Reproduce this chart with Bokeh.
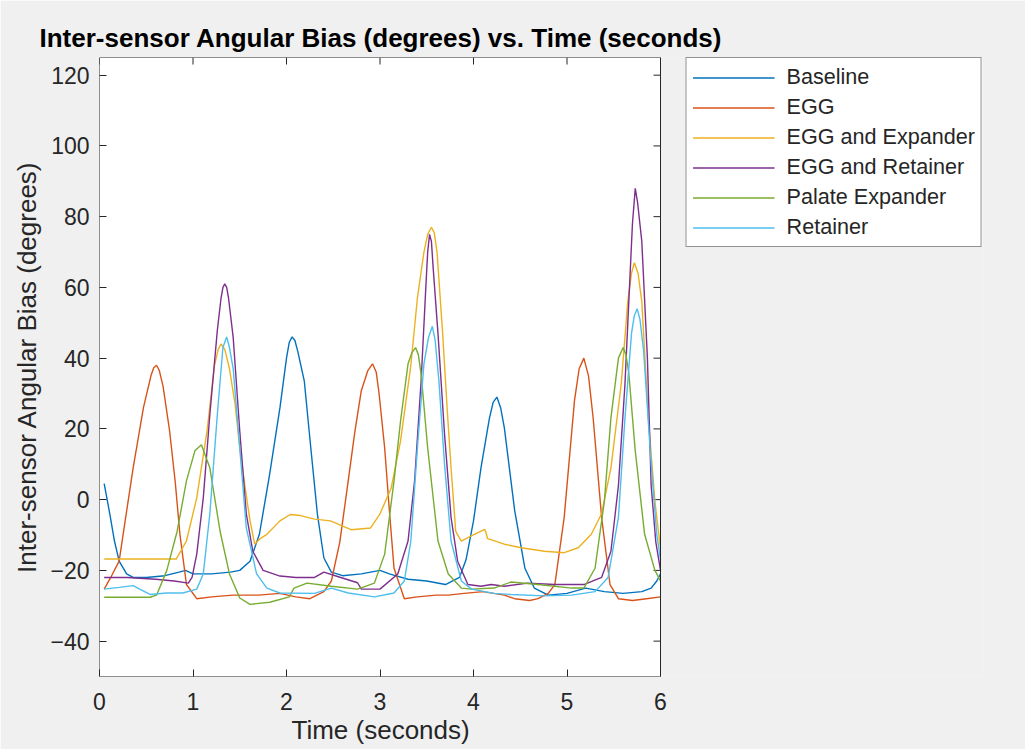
import math
from bokeh.plotting import figure
from bokeh.models import Range1d, Legend, LegendItem, FixedTicker, Title
from bokeh.embed import file_html
from bokeh.resources import INLINE

# ---------------- data ----------------
series_names = ["Baseline", "EGG", "EGG and Expander", "EGG and Retainer",
                "Palate Expander", "Retainer"]
series_colors = ["#0072BD", "#D95319", "#EDB120", "#7E2F8E", "#77AC30", "#4DBEEE"]

t_base = [0.05, 0.11, 0.16, 0.21, 0.29, 0.36, 0.5, 0.7, 0.85, 0.92, 1.0, 1.2, 1.4, 1.5,
          1.61, 1.71, 1.82, 1.93, 2.0, 2.03, 2.06, 2.09, 2.12, 2.19, 2.26, 2.33, 2.4, 2.48,
          2.6, 2.8,
          3.0, 3.1, 3.3, 3.5, 3.7, 3.85, 3.92, 4.0, 4.08, 4.17, 4.21, 4.25, 4.29, 4.33,
          4.44, 4.55, 4.65,
          4.8, 5.0, 5.2, 5.4, 5.6, 5.8, 5.9, 5.96, 6.0]
v_base = [4.5, -4, -11.7, -17.4, -21, -22, -22, -21.5, -20.5, -20, -21, -21, -20.5, -20,
          -17.4, -9.8, 7.2, 26, 40, 44.5, 46, 45, 42, 33.6, 14.6, -4, -16.5, -20.5,
          -21.5, -21,
          -20, -21, -22.5, -23, -24, -22, -17, -6, 9, 23, 27.5, 29, 26, 20.3,
          -3, -19.4, -25,
          -27, -26.5, -25, -26, -26.5, -26, -25, -23, -21]

t_egg = [0.05, 0.12, 0.21, 0.28, 0.36, 0.47, 0.55, 0.58, 0.61, 0.64, 0.68, 0.75, 0.81,
         0.86, 0.93,
         1.04, 1.2, 1.43, 1.7, 1.93, 2.1, 2.25, 2.4, 2.48, 2.57, 2.66, 2.73, 2.8, 2.87,
         2.92, 2.96, 2.99, 3.05, 3.1, 3.15, 3.26,
         3.4, 3.6, 3.73, 3.9, 4.1, 4.33, 4.44, 4.6, 4.69, 4.8, 4.87, 4.97, 5.08, 5.13,
         5.18, 5.23, 5.28, 5.37, 5.46, 5.55, 5.7, 5.85, 6.0]
v_egg = [-25.3, -22, -17.4, -5, 9, 26, 35, 37.3, 38, 36.5, 32, 19.4, 5,
         -9.8, -24,
         -28, -27.5, -27, -27, -26.5, -27.5, -28, -26, -23, -12, 5.3, 19, 30.8, 36.5,
         38.4, 36, 30, 14.6, -3, -19.4, -28,
         -27.5, -27, -27, -26.5, -26, -27, -28, -28.5, -28, -26.5, -24, -5, 28, 37,
         40, 35, 23, -5, -24, -28, -28.5, -28, -27.5]

t_egg_exp = [0.05, 0.4, 0.82, 0.93, 1.04, 1.15, 1.23, 1.27, 1.3, 1.34, 1.39, 1.45, 1.5,
             1.56, 1.61, 1.66, 1.72, 1.79,
             1.93, 2.04, 2.15, 2.3, 2.47, 2.69, 2.9, 3.0, 3.12, 3.22, 3.33, 3.4, 3.47,
             3.51, 3.55, 3.58, 3.61, 3.67, 3.72, 3.76, 3.81, 3.87, 3.97,
             4.12, 4.13, 4.15, 4.33, 4.51, 4.76, 4.97, 5.12, 5.26, 5.37, 5.47, 5.58,
             5.65, 5.69, 5.72, 5.76, 5.8, 5.87, 5.94, 6.0]
v_egg_exp = [-16.8, -16.8, -16.8, -11.7, 0.5, 19.4, 38, 42.5, 44, 42.5, 37, 27, 14.6,
             3, -6, -12.6, -11, -9.8,
             -6, -4.2, -4.5, -5.5, -6, -8.5, -8, -4, 3.3, 16.6, 38, 57, 70,
             75, 77, 75.5, 70, 47, 25, 9, -9, -11.7, -10.3,
             -8.4, -9, -11, -12.6, -13.6, -14.6, -15, -13.6, -9.8, -4, 9, 32.7,
             56, 64, 67, 64, 56, 23, -0.4, -14]

t_egg_ret = [0.05, 0.3, 0.6, 0.8, 0.95, 0.99, 1.04, 1.11, 1.18, 1.26, 1.3, 1.32, 1.34,
             1.36, 1.38, 1.43, 1.5, 1.57, 1.64, 1.75,
             1.93, 2.1, 2.3, 2.4, 2.58, 2.76, 2.8, 3.0, 3.19, 3.3, 3.37, 3.44, 3.49,
             3.51, 3.53, 3.55, 3.57, 3.62, 3.69, 3.76, 3.83, 3.94,
             4.08, 4.19, 4.33, 4.58, 4.87, 5.18, 5.37, 5.47, 5.55, 5.62, 5.67, 5.7,
             5.73, 5.755, 5.8, 5.86, 5.9, 5.95, 6.0]
v_egg_ret = [-22, -22, -22.5, -23, -23.6, -22, -15.4, 0.5, 24, 47.8, 57, 60, 61,
             60, 57, 45.8, 19.4, -4, -14.6, -20,
             -21.6, -22, -22, -20.5, -22, -23.5, -25.3, -25.3, -21, -11.7, 5.3, 33.6, 60,
             70, 75, 73, 65, 47, 18.6, -5, -17.4, -24,
             -24.5, -24, -24.5, -23.6, -24, -24, -22, -14.6, 4, 32.7, 61, 78,
             88, 84, 73, 40, 4, -12, -20]

t_pal = [0.05, 0.54, 0.61, 0.72, 0.83, 0.93, 1.02, 1.09, 1.18, 1.29, 1.39, 1.5, 1.61,
         1.82, 2.03, 2.08, 2.22, 2.48, 2.76, 2.94,
         3.05, 3.15, 3.22, 3.3, 3.34, 3.38, 3.41, 3.44, 3.51, 3.62, 3.73, 3.87, 3.98,
         4.22, 4.4, 4.69, 5.05, 5.18, 5.3, 5.4, 5.47, 5.55, 5.6, 5.63, 5.66, 5.73,
         5.83, 5.94, 6.0]
v_pal = [-27.6, -27.6, -27, -20, -9, 5.3, 13.8, 15.5, 9, -9, -21, -27.8, -29.6,
         -29, -27.5, -25, -23.6, -24.5, -25.3, -23.6,
         -15.4, 5.3, 22.3, 38.4, 41.5, 43, 41, 35.5, 14.6, -11.7, -21, -25, -25.3,
         -25, -23.3, -24, -25, -25, -19.4, -0.4, 23.2, 40, 43, 41, 36, 13.8,
         -9.8, -20, -23]

t_ret = [0.05, 0.21, 0.36, 0.43, 0.54, 0.72, 0.89, 1.04, 1.11, 1.18, 1.26, 1.32, 1.36,
         1.39, 1.43, 1.5, 1.57, 1.68, 1.79, 1.93,
         2.3, 2.48, 2.66, 2.94, 3.15, 3.26, 3.33, 3.4, 3.47, 3.52, 3.56, 3.59, 3.63,
         3.69, 3.76, 3.87, 3.98,
         4.22, 4.4, 4.76, 5.05, 5.3, 5.44, 5.55, 5.62, 5.69, 5.72, 5.75, 5.78, 5.82,
         5.89, 5.96, 6.0]
v_ret = [-25.3, -24.8, -24.3, -25.3, -26.8, -26.4, -26.4, -25.3, -21, -4, 24, 43, 46,
         43, 37, 14.6, -8, -21, -25, -26.4,
         -26.5, -25, -26.4, -27.5, -26.4, -23, -11.7, 14.6, 38.4, 46, 49, 45, 33.6,
         10, -11.7, -23, -25.3,
         -26.5, -26.8, -27.2, -27, -26, -22, -5, 23, 47, 52, 54, 51, 42,
         13.8, -9.8, -17]

x_ticks = [0, 1, 2, 3, 4, 5, 6]
y_ticks = [-40, -20, 0, 20, 40, 60, 80, 100, 120]
x_min, x_max = 0, 6
y_min, y_max = -50, 125

series_t = [t_base, t_egg, t_egg_exp, t_egg_ret, t_pal, t_ret]
series_v = [v_base, v_egg, v_egg_exp, v_egg_ret, v_pal, v_ret]

# ---------------- layout geometry (pixels) ----------------
AX = "#262626"
BG = "#F0F0F0"
FONT = "Liberation Sans"
W, H = 1025, 749
FRAME_LEFT, AXES_RIGHT, FRAME_RIGHT = 99, 660, 982   # axes box right edge / legend right edge
B_TOP, B_BOTTOM = 57, 73
# the frame extends to the legend's right edge; the axes box covers x_min..x_max
x_end = x_max + (FRAME_RIGHT - AXES_RIGHT) * (x_max - x_min) / (AXES_RIGHT - FRAME_LEFT)
axes_center = (FRAME_LEFT + AXES_RIGHT) / 2
TITLE_W, XLABEL_W = 681, 177   # rendered text widths, used to centre them over the axes box

p = figure(width=W, height=H, output_backend="svg", toolbar_location=None,
           x_range=Range1d(x_min, x_end), y_range=Range1d(y_min, y_max),
           min_border_left=FRAME_LEFT, min_border_right=W - FRAME_RIGHT,
           min_border_top=B_TOP, min_border_bottom=B_BOTTOM,
           background_fill_color=BG, border_fill_color=BG)
p.outline_line_color = None
p.grid.visible = False

p.title.text = "Inter-sensor Angular Bias (degrees) vs. Time (seconds)"
p.title.align = "left"
p.title.offset = axes_center - TITLE_W / 2 - FRAME_LEFT
p.title.text_font = FONT
p.title.text_font_size = "26px"
p.title.text_font_style = "bold"
p.title.text_color = "#000000"
p.title.standoff = 9

# white axes box
p.quad(left=[x_min], right=[x_max], bottom=[y_min], top=[y_max],
       fill_color="white", line_color=None)

for ax, ticks in ((p.xaxis[0], x_ticks), (p.yaxis[0], y_ticks)):
    ax.ticker = FixedTicker(ticks=ticks)
    ax.major_tick_in = 7
    ax.major_tick_out = 0
    ax.minor_tick_line_color = None
    ax.major_tick_line_color = AX
    ax.axis_line_color = None
    ax.major_label_text_font = FONT
    ax.major_label_text_color = AX
    ax.major_label_text_font_size = "23px"
p.xaxis.major_label_standoff = 16
p.yaxis.major_label_standoff = 10

p.yaxis.axis_label = "Inter-sensor Angular Bias (degrees)"
p.yaxis.axis_label_text_font = FONT
p.yaxis.axis_label_text_font_size = "26px"
p.yaxis.axis_label_text_font_style = "normal"
p.yaxis.axis_label_text_color = AX
p.yaxis.axis_label_standoff = 5

xtitle = Title(text="Time (seconds)", align="left",
               offset=axes_center - XLABEL_W / 2 - FRAME_LEFT,
               text_font=FONT, text_font_size="26px", text_font_style="normal",
               text_color=AX, standoff=0)
p.add_layout(xtitle, "below")

# inward ticks on the top and right edges of the box
p.ray(x=x_ticks, y=[y_max] * len(x_ticks), length=7, angle=-math.pi / 2,
      length_units="screen", line_color=AX, line_width=1)
p.ray(x=[x_max] * len(y_ticks), y=y_ticks, length=7, angle=math.pi,
      length_units="screen", line_color=AX, line_width=1)

items = []
for name, color, ts, vs in zip(series_names, series_colors, series_t, series_v):
    r = p.line(ts, vs, line_color=color, line_width=1.4)
    items.append(LegendItem(label=name, renderers=[r]))

# box outline on top of the lines
p.quad(left=[x_min], right=[x_max], bottom=[y_min], top=[y_max],
       fill_color=None, line_color=AX, line_width=1)

legend = Legend(items=items, location="top_right", margin=0,
                padding=6, spacing=4,
                label_height=25, glyph_height=25, glyph_width=82, label_standoff=12,
                label_text_font=FONT, label_text_font_size="21.6px",
                label_text_color=AX,
                border_line_color=AX, border_line_width=1,
                background_fill_color="white", background_fill_alpha=1)
p.add_layout(legend, "center")

open("out.html", "w").write(file_html(p, INLINE))
